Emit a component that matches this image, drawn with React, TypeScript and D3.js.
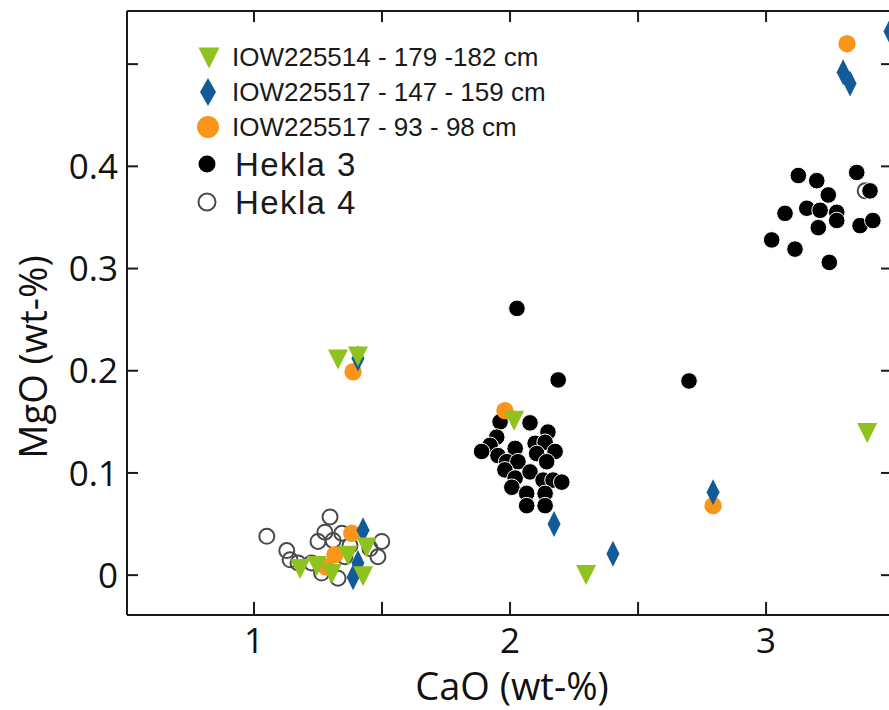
import React from 'react';
import * as d3 from 'd3';

// CaO, MgO pairs (wt-%)
const hekla4: [number, number][] = [
  [1.05, 0.038], [1.128, 0.024], [1.141, 0.015], [1.172, 0.012], [1.225, 0.012],
  [1.25, 0.033], [1.264, 0.002], [1.277, 0.042], [1.297, 0.057], [1.309, 0.034],
  [1.328, -0.003], [1.343, 0.041], [1.355, 0.018], [1.375, 0.029], [1.453, 0.026],
  [1.484, 0.018], [1.499, 0.033], [3.387, 0.376]
];

const hekla3: [number, number][] = [
  [1.961, 0.15], [2.078, 0.149], [2.148, 0.14], [1.948, 0.135], [1.922, 0.127],
  [1.889, 0.121], [2.02, 0.124], [2.098, 0.129], [2.137, 0.13], [2.176, 0.121],
  [2.104, 0.119], [1.953, 0.117], [1.987, 0.111], [2.031, 0.111], [2.143, 0.111],
  [1.98, 0.103], [2.02, 0.095], [2.078, 0.101], [2.129, 0.093], [2.168, 0.093],
  [2.202, 0.091], [2.007, 0.086], [2.065, 0.08], [2.137, 0.08], [2.065, 0.068],
  [2.137, 0.068],
  [2.027, 0.261], [2.188, 0.191], [2.699, 0.19],
  [3.126, 0.391], [3.198, 0.386], [3.354, 0.394], [3.243, 0.372], [3.406, 0.376],
  [3.159, 0.359], [3.211, 0.357], [3.276, 0.355], [3.074, 0.354], [3.276, 0.347],
  [3.204, 0.34], [3.367, 0.342], [3.417, 0.347], [3.022, 0.328], [3.113, 0.319],
  [3.247, 0.306]
];

const iow517Upper: [number, number][] = [
  [1.382, 0.041], [1.316, 0.02], [1.281, 0.008], [1.387, 0.199], [1.98, 0.161],
  [2.793, 0.068], [3.316, 0.52]
];

const iow517Lower: [number, number][] = [
  [1.426, 0.044], [1.387, -0.002], [1.406, 0.012], [1.406, 0.212], [2.172, 0.05],
  [2.402, 0.021], [2.793, 0.081], [3.301, 0.492], [3.328, 0.481], [3.484, 0.532]
];

const iow514: [number, number][] = [
  [1.18, 0.007], [1.245, 0.01], [1.304, 0.002], [1.367, 0.02], [1.44, 0.028],
  [1.426, 0.0], [1.328, 0.212], [1.406, 0.215], [2.016, 0.152], [2.297, 0.001],
  [3.395, 0.14]
];

const legendLabels = [
  'IOW225514 - 179 -182 cm',
  'IOW225517 - 147 - 159 cm',
  'IOW225517 - 93 - 98 cm',
  'Hekla 3',
  'Hekla 4'
];

const xTicks = [1, 1.5, 2, 2.5, 3];
const xLabels = [1, 2, 3];
const yTicks = [0, 0.1, 0.2, 0.3, 0.4, 0.5];
const yLabels = [0, 0.1, 0.2, 0.3, 0.4];

const GREEN = '#8dc21f';
const BLUE = '#135a99';
const ORANGE = '#fb951a';
const AXIS_FONT = '"Open Sans", "Noto Sans", sans-serif';
const LEGEND_FONT = '"Liberation Sans", Arial, sans-serif';

const W = 889;
const H = 710;

const x = d3.scaleLinear().domain([0.504, 3.484]).range([127, 890]);
const y = d3.scaleLinear().domain([-0.039, 0.552]).range([615, 11]);

const triPath = (px: number, py: number, s = 1) =>
  `M${px - 10 * s},${py - 9 * s}L${px + 10 * s},${py - 9 * s}L${px},${py + 11 * s}Z`;
const diaPath = (px: number, py: number, w = 6.5, h = 13) =>
  `M${px},${py - h}L${px + w},${py}L${px},${py + h}L${px - w},${py}Z`;

export default function App() {
  const [x0, x1] = x.range();
  const [y0, y1] = y.range();
  const tick = 11;

  return (
    <svg width={W} height={H} style={{ position: 'absolute', left: 0, top: 0, background: '#fff' }}>
      {/* frame */}
      <g stroke="#1a1a1a" strokeWidth={2} fill="none">
        <line x1={x0} x2={x1} y1={y1} y2={y1} />
        <line x1={x0} x2={x1} y1={y0} y2={y0} />
        <line x1={x0} x2={x0} y1={y1} y2={y0} />
        <line x1={x1} x2={x1} y1={y1} y2={y0} />
        {xTicks.map(t => (
          <g key={'xt' + t}>
            <line x1={x(t)} x2={x(t)} y1={y0} y2={y0 - 13} />
            <line x1={x(t)} x2={x(t)} y1={y1} y2={y1 + tick} />
          </g>
        ))}
        {yTicks.map(t => (
          <g key={'yt' + t}>
            <line x1={x0} x2={x0 + tick} y1={y(t)} y2={y(t)} />
            <line x1={x1} x2={x1 - 9} y1={y(t)} y2={y(t)} />
          </g>
        ))}
      </g>

      {/* tick labels */}
      <g fontFamily={AXIS_FONT} fontSize={35} fill="#111">
        {yLabels.map(t => (
          <text key={'yl' + t} x={x0 - 9} y={y(t)} dy="0.36em" textAnchor="end">
            {t === 0 ? '0' : t.toFixed(1)}
          </text>
        ))}
        {xLabels.map(t => (
          <text key={'xl' + t} x={x(t)} y={653} textAnchor="middle">{t}</text>
        ))}
      </g>

      {/* axis titles */}
      <g fontFamily={AXIS_FONT} fontSize={38} fill="#111">
        <text x={512} y={700} textAnchor="middle">CaO (wt-%)</text>
        <text transform="translate(47,357) rotate(-90)" textAnchor="middle">MgO (wt-%)</text>
      </g>

      {/* data */}
      <g>
        {hekla4.map((d, i) => (
          <circle key={'h4' + i} cx={x(d[0])} cy={y(d[1])} r={7.5} fill="none" stroke="#4a4a4a" strokeWidth={2} />
        ))}
        {hekla3.map((d, i) => (
          <circle key={'h3' + i} cx={x(d[0])} cy={y(d[1])} r={8.3} fill="#000" stroke="#fff" strokeWidth={1} />
        ))}
        {iow517Upper.map((d, i) => (
          <circle key={'o' + i} cx={x(d[0])} cy={y(d[1])} r={8.7} fill={ORANGE} />
        ))}
        {iow517Lower.map((d, i) => (
          <path key={'b' + i} d={diaPath(x(d[0]), y(d[1]))} fill={BLUE} />
        ))}
        {iow514.map((d, i) => (
          <path key={'g' + i} d={triPath(x(d[0]), y(d[1]))} fill={GREEN} />
        ))}
      </g>

      {/* legend */}
      <g>
        <path d={triPath(209, 57, 1.05)} fill={GREEN} />
        <path d={diaPath(208, 92, 8, 14)} fill={BLUE} />
        <circle cx={208} cy={127} r={11} fill={ORANGE} />
        <circle cx={207} cy={164} r={8.5} fill="#000" />
        <circle cx={207} cy={202} r={8.5} fill="none" stroke="#4a4a4a" strokeWidth={2} />
        {legendLabels.slice(0, 3).map((l, i) => (
          <text key={l} x={232} y={66 + i * 35} fontFamily={LEGEND_FONT} fontSize={26} fill="#1a1a1a">
            {l}
          </text>
        ))}
        {legendLabels.slice(3).map((l, i) => (
          <text key={l} x={235} y={176 + i * 38} fontFamily={LEGEND_FONT} fontSize={33}
            letterSpacing={1.4} fill="#1a1a1a">
            {l}
          </text>
        ))}
      </g>
    </svg>
  );
}
